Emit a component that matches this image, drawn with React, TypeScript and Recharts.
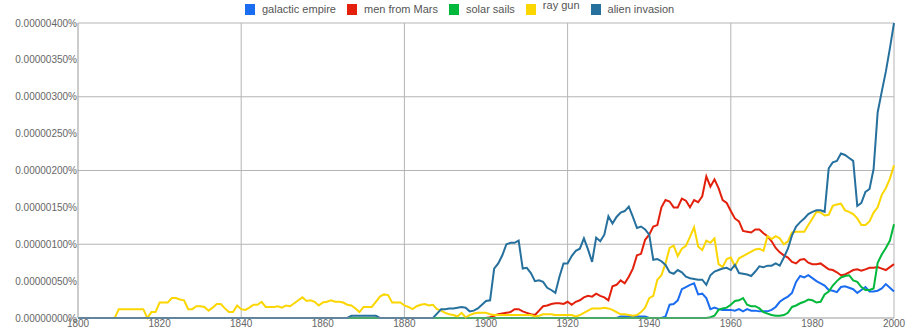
import React from 'react';
import { LineChart, Line, XAxis, YAxis, CartesianGrid } from 'recharts';

// values are in units of 0.00000001% (1e-8 %), one per year 1800..2000
const years = Array.from({ length: 201 }, (_, i) => 1800 + i);

const galacticEmpire = [
  0, 0, 0, 0, 0, 0, 0, 0, 0, 0,
  0, 0, 0, 0, 0, 0, 0, 0, 0, 0,
  0, 0, 0, 0, 0, 0, 0, 0, 0, 0,
  0, 0, 0, 0, 0, 0, 0, 0, 0, 0,
  0, 0, 0, 0, 0, 0, 0, 0, 0, 0,
  0, 0, 0, 0, 0, 0, 0, 0, 0, 0,
  0, 0, 0, 0, 0, 0, 0, 0, 0, 0,
  0, 0, 0, 0, 0, 0, 0, 0, 0, 0,
  0, 0, 0, 0, 0, 0, 0, 0, 0, 0,
  0, 0, 0, 0, 0, 0, 0, 0, 0, 0,
  0, 0, 0, 0, 0, 0, 0, 0, 0, 0,
  0, 0, 0, 0, 0, 0, 0, 0, 0, 0,
  0, 0, 0, 0, 0, 0, 0, 0, 0, 0,
  0, 0, 0, 2, 2, 2, 2, 2, 2, 2,
  0, 0, 0, 0, 2, 18, 19, 24, 39, 42,
  45, 47, 32, 33, 27, 12, 14, 12, 11, 11,
  11, 10, 12, 9, 12, 10, 10, 9, 9, 9,
  11, 15, 22, 26, 29, 34, 49, 57, 55, 58,
  54, 50, 47, 44, 38, 37, 35, 42, 43, 41,
  39, 34, 38, 42, 36, 36, 37, 40, 46, 41,
  36,
];

const menFromMars = [
  0, 0, 0, 0, 0, 0, 0, 0, 0, 0,
  0, 0, 0, 0, 0, 0, 0, 0, 0, 0,
  0, 0, 0, 0, 0, 0, 0, 0, 0, 0,
  0, 0, 0, 0, 0, 0, 0, 0, 0, 0,
  0, 0, 0, 0, 0, 0, 0, 0, 0, 0,
  0, 0, 0, 0, 0, 0, 0, 0, 0, 0,
  0, 0, 0, 0, 0, 0, 0, 0, 0, 0,
  0, 0, 0, 0, 0, 0, 0, 0, 0, 0,
  0, 0, 0, 0, 0, 0, 0, 0, 0, 0,
  0, 0, 0, 0, 0, 0, 0, 0, 0, 0,
  0, 1, 3, 5, 6, 7, 8, 12, 12, 9,
  7, 5, 4, 10, 16, 17, 19, 20, 20, 19,
  22, 18, 22, 24, 28, 30, 29, 33, 30, 28,
  24, 43, 45, 51, 47, 56, 67, 85, 87, 106,
  113, 124, 126, 150, 160, 158, 150, 150, 162, 159,
  150, 160, 157, 165, 192, 178, 188, 176, 160, 156,
  145, 135, 131, 118, 117, 116, 120, 120, 115, 111,
  104, 95, 89, 85, 82, 76, 74, 79, 80, 75,
  73, 73, 74, 70, 66, 65, 62, 58, 59, 62,
  65, 66, 64, 66, 68, 68, 69, 67, 65, 69,
  73,
];

const solarSails = [
  0, 0, 0, 0, 0, 0, 0, 0, 0, 0,
  0, 0, 0, 0, 0, 0, 0, 0, 0, 0,
  0, 0, 0, 0, 0, 0, 0, 0, 0, 0,
  0, 0, 0, 0, 0, 0, 0, 0, 0, 0,
  0, 0, 0, 0, 0, 0, 0, 0, 0, 0,
  0, 0, 0, 0, 0, 0, 0, 0, 0, 0,
  0, 0, 0, 0, 0, 0, 0, 0, 0, 0,
  0, 0, 0, 0, 0, 0, 0, 0, 0, 0,
  0, 0, 0, 0, 0, 0, 0, 0, 0, 0,
  0, 0, 0, 0, 0, 0, 0, 0, 0, 0,
  0, 0, 0, 0, 0, 0, 0, 0, 0, 0,
  0, 0, 0, 0, 0, 0, 0, 0, 0, 0,
  0, 0, 0, 0, 0, 0, 0, 0, 0, 0,
  0, 0, 0, 0, 0, 0, 0, 0, 0, 0,
  0, 0, 0, 0, 0, 0, 0, 0, 0, 0,
  0, 0, 0, 0, 0, 1, 3, 11, 13, 14,
  18, 23, 24, 27, 18, 16, 16, 13, 8, 6,
  4, 3, 3, 4, 7, 15, 17, 20, 22, 25,
  24, 21, 22, 32, 36, 44, 50, 55, 57, 58,
  51, 49, 42, 38, 38, 40, 75, 86, 95, 105,
  127,
];

const rayGun = [
  0, 0, 0, 0, 0, 0, 0, 0, 0, 0,
  12, 12, 12, 12, 12, 12, 12, 0, 8, 8,
  21, 21, 21, 27, 27, 25, 24, 12, 12, 16,
  16, 15, 10, 14, 19, 19, 13, 8, 8, 17,
  12, 11, 14, 18, 18, 22, 15, 15, 15, 16,
  14, 17, 16, 20, 24, 28, 23, 24, 22, 17,
  21, 22, 24, 22, 22, 21, 18, 17, 13, 8,
  15, 15, 15, 22, 29, 32, 31, 21, 21, 21,
  17, 15, 12, 16, 18, 19, 17, 18, 12, 10,
  7, 5, 4, 2, 7, 1, 4, 6, 7, 7,
  7, 5, 4, 4, 4, 4, 4, 4, 4, 4,
  4, 4, 2, 3, 5, 5, 5, 4, 4, 4,
  4, 4, 2, 4, 7, 10, 13, 13, 13, 14,
  13, 11, 8, 5, 5, 4, 3, 4, 8, 14,
  27, 30, 52, 58, 74, 95, 98, 84, 94, 98,
  110, 123, 97, 92, 105, 102, 108, 73, 69, 80,
  82, 70, 81, 84, 87, 90, 93, 94, 91, 111,
  107, 111, 108, 100, 104, 116, 117, 117, 117, 126,
  135, 144, 143, 139, 140, 152, 154, 155, 146, 144,
  141, 135, 126, 126, 131, 143, 150, 167, 176, 189,
  207,
];

const alienInvasion = [
  0, 0, 0, 0, 0, 0, 0, 0, 0, 0,
  0, 0, 0, 0, 0, 0, 0, 0, 0, 0,
  0, 0, 0, 0, 0, 0, 0, 0, 0, 0,
  0, 0, 0, 0, 0, 0, 0, 0, 0, 0,
  0, 0, 0, 0, 0, 0, 0, 0, 0, 0,
  0, 0, 0, 0, 0, 0, 0, 0, 0, 0,
  0, 0, 0, 0, 0, 0, 0, 3, 3, 3,
  3, 3, 3, 3, 0, 0, 0, 0, 0, 0,
  0, 0, 0, 0, 0, 0, 0, 0, 6, 12,
  12, 13, 13, 14, 15, 14, 9, 10, 13, 18,
  23, 24, 67, 74, 85, 100, 102, 102, 105, 67,
  68, 61, 50, 51, 49, 41, 38, 34, 56, 74,
  74, 84, 91, 94, 108, 93, 76, 109, 104, 113,
  138, 128, 137, 143, 145, 151, 137, 122, 124, 120,
  113, 79, 80, 77, 72, 62, 60, 65, 62, 56,
  54, 53, 52, 52, 45, 58, 63, 65, 67, 68,
  65, 72, 61, 60, 59, 57, 63, 70, 69, 71,
  71, 74, 71, 82, 94, 112, 124, 130, 135, 141,
  144, 146, 146, 144, 203, 211, 213, 223, 221, 217,
  213, 152, 156, 171, 175, 202, 279, 307, 334, 366,
  400,
];

const xTicks = [1800, 1820, 1840, 1860, 1880, 1900, 1920, 1940, 1960, 1980, 2000];
const yTicks = [0, 50, 100, 150, 200, 250, 300, 350, 400];

const series = [
  { key: 'galactic', name: 'galactic empire', color: '#1a6cf0', values: galacticEmpire },
  { key: 'mars', name: 'men from Mars', color: '#e3200b', values: menFromMars },
  { key: 'sails', name: 'solar sails', color: '#00b83a', values: solarSails },
  { key: 'ray', name: 'ray gun', color: '#fcd600', values: rayGun },
  { key: 'alien', name: 'alien invasion', color: '#26709e', values: alienInvasion },
];

const data = years.map((year, i) => {
  const row: Record<string, number> = { year };
  series.forEach((s) => { row[s.key] = s.values[i]; });
  return row;
});

const fmtPct = (v: number) => (v / 1e8).toFixed(8) + '%';

export default function App() {
  const font = '"Liberation Sans", Arial, sans-serif';
  return (
    <div style={{ position: 'absolute', left: 0, top: 0, width: 910, height: 333, background: '#fff', fontFamily: font }}>
      <div style={{ position: 'absolute', left: 245, top: 3, display: 'flex', alignItems: 'center', fontSize: 11, color: '#555', whiteSpace: 'nowrap' }}>
        {series.map((s) => (
          <div key={s.key} style={{ display: 'flex', alignItems: 'center', marginRight: 11 }}>
            <span style={{ display: 'inline-block', width: 10, height: 11, background: s.color, marginRight: 7 }} />
            <span style={{ position: 'relative', top: s.key === 'ray' ? -4 : 0, lineHeight: '13px' }}>{s.name}</span>
          </div>
        ))}
      </div>
      <LineChart width={910} height={333} data={data} margin={{ top: 23, right: 16, bottom: 0, left: 0 }}>
        <CartesianGrid
          stroke="#b5b5b5"
          horizontalValues={[100, 200, 300, 400]}
          verticalValues={[1840, 1880, 1920, 1960, 2000]}
        />
        <XAxis
          dataKey="year"
          type="number"
          domain={[1800, 2000]}
          ticks={xTicks}
          interval={0}
          height={15}
          tickSize={0}
          tickMargin={2}
          axisLine={{ stroke: '#999' }}
          tick={{ fontSize: 10, fill: '#666', fontFamily: font }}
        />
        <YAxis
          type="number"
          domain={[0, 400]}
          ticks={yTicks}
          interval={0}
          width={78}
          tickSize={0}
          tickMargin={1}
          tickFormatter={fmtPct}
          axisLine={{ stroke: '#999' }}
          tick={{ fontSize: 10, fill: '#666', fontFamily: font }}
        />
        {series.map((s) => (
          <Line
            key={s.key}
            type="linear"
            dataKey={s.key}
            name={s.name}
            stroke={s.color}
            strokeWidth={2}
            dot={false}
            isAnimationActive={false}
          />
        ))}
      </LineChart>
    </div>
  );
}
